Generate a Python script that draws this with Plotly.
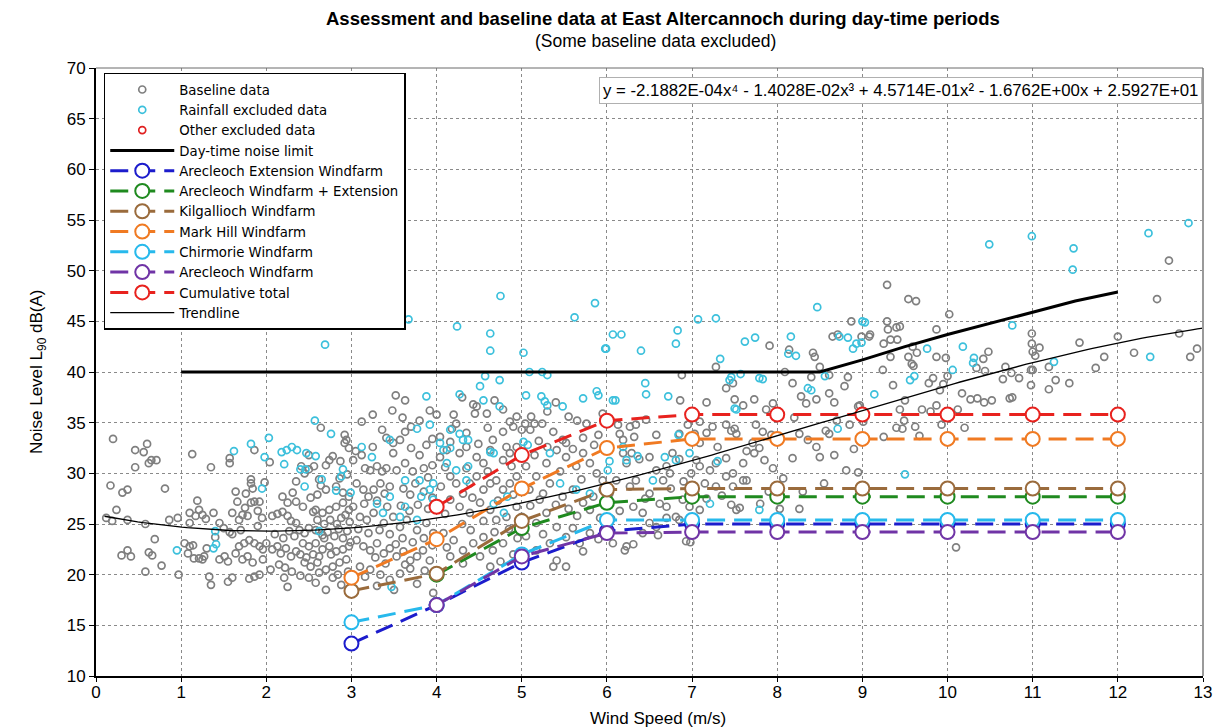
import numpy as np
import plotly.graph_objects as go

# ---------------- data ----------------
arecleoch_ext_x = [3, 4, 5, 6, 7, 8, 9, 10, 11, 12]
arecleoch_ext_y = [13.2, 17.0, 21.2, 24.3, 25.0, 25.0, 25.0, 25.0, 25.0, 25.0]

arecleoch_plus_x = [4, 5, 6, 7, 8, 9, 10, 11, 12]
arecleoch_plus_y = [20.0, 24.6, 27.1, 27.7, 27.7, 27.7, 27.7, 27.7, 27.7]

kilgallioch_x = [3, 4, 5, 6, 7, 8, 9, 10, 11, 12]
kilgallioch_y = [18.4, 20.1, 25.3, 28.4, 28.5, 28.5, 28.5, 28.5, 28.5, 28.5]

markhill_x = [3, 4, 5, 6, 7, 8, 9, 10, 11, 12]
markhill_y = [19.7, 23.5, 28.5, 32.5, 33.4, 33.4, 33.4, 33.4, 33.4, 33.4]

chirmorie_x = [3, 4, 5, 6, 7, 8, 9, 10, 11, 12]
chirmorie_y = [15.3, 17.0, 22.0, 25.4, 25.4, 25.4, 25.4, 25.4, 25.4, 25.4]

arecleoch_x = [4, 5, 6, 7, 8, 9, 10, 11, 12]
arecleoch_y = [17.0, 21.8, 24.1, 24.2, 24.2, 24.2, 24.2, 24.2, 24.2]

cumulative_x = [4, 5, 6, 7, 8, 9, 10, 11, 12]
cumulative_y = [26.7, 31.8, 35.2, 35.8, 35.8, 35.8, 35.8, 35.8, 35.8]

limit_x = [1, 8.5, 9, 9.5, 10, 10.5, 11, 11.5, 12]
limit_y = [40, 40, 41.2, 42.5, 43.7, 44.8, 45.9, 47.0, 47.9]

# trendline coefficients shown on the chart (x^4 ... x^0)
trend_coeffs = [-2.1882e-04, -1.4028e-02, 4.5714e-01, -1.6762e+00, 2.5927e+01]
trend_range = [0.1, 13.0]

baseline_points = [
    # 0-1 m/s
    (0.2,33.4),(0.46,32.3),(0.56,32.1),(0.6,32.9),(0.46,30.6),(0.62,31.0),(0.65,31.3),(0.71,31.3),
    (0.17,28.8),(0.31,28.1),(0.37,28.4),(0.81,28.5),(0.24,26.4),(0.19,25.3),(0.37,25.4),(0.58,25.0),
    (0.69,23.5),(0.37,22.4),(0.41,21.8),(0.62,22.2),(0.66,21.9),(0.77,20.9),(0.58,20.3),(0.97,20.0),
    (0.12,25.6),(0.86,25.4),(0.3,21.9),
    # 1-2 m/s
    (1.13,31.9),(1.35,30.6),(1.57,31.5),(1.57,31.0),(1.82,29.4),(1.82,29.0),(1.84,28.5),(1.86,32.3),
    (1.98,29.1),(2.04,31.1),(1.64,28.2),(1.76,28.0),(1.66,27.2),(1.19,27.3),(1.1,26.1),(1.21,26.4),
    (1.25,25.9),(1.38,26.1),(0.96,25.6),(1.1,25.1),(1.17,25.8),(1.29,25.5),(1.6,26.1),(1.72,25.9),
    (1.78,25.8),(1.68,25.4),(1.82,27.1),(1.86,27.2),(1.92,27.2),(1.45,25.1),(1.57,24.2),(1.6,24.0),
    (1.04,23.1),(1.1,22.8),(1.14,22.9),(1.08,22.1),(1.15,21.6),(1.21,21.6),(1.27,21.8),(1.25,21.5),
    (1.45,21.5),(1.51,21.8),(1.55,21.3),(1.33,19.8),(1.35,19.0),(1.55,19.3),(1.6,19.7),(1.68,22.8),
    (1.74,23.1),(1.8,23.4),(1.86,23.1),(1.64,22.1),(1.72,21.5),(1.78,21.8),(1.84,21.2),(1.92,22.8),
    (1.96,22.5),(2.0,23.1),(1.8,19.6),(1.86,19.8),(1.92,20.0),(1.96,21.5),(1.5,24.6),(1.7,24.4),
    (1.9,24.8),(1.4,23.7),(1.3,22.6),(1.95,25.6),(1.9,26.3),(1.75,26.6),
    # 2-3 m/s
    (2.05,20.5),(2.07,22.5),(2.13,22.8),(2.17,22.1),(2.23,22.6),(2.29,21.8),(2.35,22.3),(2.07,25.8),
    (2.13,26.0),(2.19,26.2),(2.25,25.8),(2.29,25.3),(2.35,25.1),(2.19,27.7),(2.25,27.1),(2.31,28.1),
    (2.35,27.2),(2.43,26.7),(2.35,29.2),(2.41,30.7),(2.45,30.0),(2.5,30.4),(2.56,30.7),(2.62,29.4),
    (2.64,34.5),(2.74,31.3),(2.78,31.7),(2.92,33.8),(2.94,33.3),(2.92,33.0),(2.39,24.4),(2.45,24.1),
    (2.5,24.6),(2.58,24.4),(2.66,23.9),(2.43,23.1),(2.5,22.8),(2.58,23.1),(2.66,22.5),(2.74,22.8),
    (2.82,22.3),(2.9,22.5),(2.97,22.8),(2.45,21.2),(2.52,20.8),(2.6,21.2),(2.7,20.5),(2.78,20.8),
    (2.86,21.2),(2.94,21.5),(2.21,19.7),(2.25,18.8),(2.5,19.7),(2.58,19.2),(2.7,18.5),(2.78,19.7),
    (2.88,19.0),(2.58,26.4),(2.66,26.1),(2.74,26.4),(2.82,26.7),(2.9,27.1),(2.97,26.4),(2.7,28.4),
    (2.82,28.7),(2.9,28.1),(2.97,27.7),(2.1,24.0),(2.2,23.6),(2.27,24.3),(2.33,23.8),(2.4,22.0),
    (2.47,21.7),(2.55,22.0),(2.62,21.8),(2.68,23.6),(2.72,24.2),(2.8,23.8),(2.85,24.5),(2.9,23.6),
    (2.95,24.3),(2.98,25.2),(2.6,25.4),(2.68,25.0),(2.75,25.4),(2.83,25.0),(2.88,25.6),(2.93,25.9),
    (2.52,27.6),(2.6,27.9),(2.64,28.8),(2.86,29.5),(2.95,29.9),(2.55,26.2),(2.3,20.3),(2.4,19.9),
    (2.15,21.0),(2.22,20.7),(2.96,20.3),(2.84,20.0),(2.62,20.2),(2.76,22.0),(2.99,23.2),(2.5,31.8),
    (2.7,30.8),(2.87,31.2),(2.97,32.5),
    # 3-4 m/s
    (3.52,37.7),(3.63,37.2),(3.48,36.2),(3.36,34.3),(3.41,33.5),(3.49,33.0),(3.57,33.3),(3.63,34.1),
    (3.49,32.0),(3.02,31.3),(3.16,30.5),(3.22,30.3),(3.3,30.7),(3.36,30.2),(3.41,30.5),(3.53,30.3),
    (3.63,31.0),(3.06,29.0),(3.14,28.4),(3.2,27.7),(3.26,28.4),(3.34,29.0),(3.39,28.0),(3.45,28.7),
    (3.61,28.5),(3.69,27.9),(3.75,29.0),(3.02,26.7),(3.1,25.7),(3.18,25.4),(3.26,26.1),(3.38,25.1),
    (3.49,25.7),(3.57,24.7),(3.65,25.4),(3.77,24.4),(3.88,25.1),(3.96,24.1),(3.06,23.4),(3.14,22.8),
    (3.22,22.4),(3.3,23.1),(3.38,22.1),(3.45,22.6),(3.53,21.8),(3.61,22.3),(3.69,21.4),(3.77,21.8),
    (3.84,22.4),(3.92,21.4),(3.1,20.8),(3.22,20.5),(3.34,20.0),(3.45,19.5),(3.57,20.1),(3.69,20.6),
    (3.77,19.1),(3.96,18.2),(3.05,32.2),(3.12,31.8),(3.25,32.6),(3.7,32.5),(3.8,31.8),(3.85,30.5),
    (3.9,29.6),(3.95,30.8),(3.72,30.2),(3.85,28.2),(3.95,27.6),(3.58,26.8),(3.68,26.3),(3.78,26.9),
    (3.9,26.5),(3.15,27.0),(3.3,27.3),(3.42,26.7),(3.08,24.5),(3.2,24.1),(3.33,24.4),(3.45,24.0),
    (3.6,23.6),(3.72,23.2),(3.85,23.6),(3.95,22.9),(3.52,23.0),(3.28,21.7),(3.4,21.1),(3.63,21.0),
    (3.86,20.4),(3.16,19.8),(3.3,18.9),(3.5,18.5),(3.12,35.1),(3.25,35.8),(3.8,35.2),(3.92,36.2),
    (3.7,34.6),(3.95,33.4),(3.88,32.8),(3.6,35.5),
    # 4-5 m/s
    (4.0,35.8),(4.43,36.8),(4.47,36.6),(4.59,35.9),(4.45,35.9),(4.2,35.8),(4.23,34.9),(4.18,34.4),
    (4.78,36.3),(4.86,35.1),(4.94,35.6),(4.16,29.7),(4.23,29.0),(4.31,28.0),(4.39,29.0),(4.47,29.7),
    (4.55,28.4),(4.63,29.0),(4.7,29.3),(4.78,28.4),(4.86,29.0),(4.94,29.7),(4.16,27.4),(4.27,26.7),
    (4.39,26.1),(4.51,27.1),(4.63,26.4),(4.7,25.4),(4.82,25.7),(4.94,26.7),(4.08,24.1),(4.2,23.4),
    (4.31,22.4),(4.43,23.1),(4.55,23.7),(4.66,22.4),(4.78,23.1),(4.16,21.8),(4.31,21.1),(4.51,21.8),
    (4.63,20.8),(4.04,31.6),(4.12,32.3),(4.27,32.0),(4.35,32.6),(4.47,31.6),(4.55,31.0),(4.63,32.3),
    (4.78,31.3),(4.86,32.0),(4.94,32.6),(4.04,33.6),(4.16,33.1),(4.49,32.9),(4.66,33.3),(4.78,34.1),
    (4.9,34.6),(4.82,32.6),(4.1,30.6),(4.35,30.5),(4.6,30.2),(4.88,30.7),(4.05,28.7),(4.42,27.6),
    (4.72,27.3),(4.9,27.9),(4.1,26.0),(4.55,25.3),(4.3,25.0),(4.85,24.5),(4.95,23.6),(4.68,24.2),
    (4.4,24.4),(4.12,22.7),(4.9,22.0),(4.75,21.3),(4.35,34.0),(4.6,34.5),(4.68,37.2),(4.3,37.5),
    # 5-6 m/s
    (5.11,35.6),(5.04,34.9),(5.15,34.9),(5.0,34.3),(5.1,34.3),(5.24,34.9),(5.37,34.1),(5.48,33.3),
    (5.52,33.0),(5.72,33.5),(5.76,34.9),(5.05,30.7),(5.17,29.7),(5.29,31.0),(5.41,32.3),(5.52,31.6),
    (5.64,30.7),(5.72,32.0),(5.8,31.0),(5.88,30.0),(5.95,29.3),(5.09,28.4),(5.21,27.4),(5.33,29.0),
    (5.48,27.7),(5.6,28.4),(5.72,27.1),(5.84,27.7),(5.95,28.4),(5.0,25.7),(5.17,25.1),(5.29,26.1),
    (5.41,24.7),(5.52,23.7),(5.68,23.1),(5.8,24.1),(5.33,23.1),(5.17,22.4),(5.41,21.4),(5.72,22.3),
    (5.52,20.8),(5.37,20.8),(5.2,33.2),(5.3,32.6),(5.6,32.4),(5.85,32.8),(5.9,33.8),(5.15,31.8),
    (5.45,30.2),(5.7,29.4),(5.25,28.0),(5.55,26.5),(5.65,25.8),(5.8,26.4),(5.92,25.6),(5.1,26.8),
    (5.4,26.9),(5.05,23.8),(5.25,24.0),(5.6,24.6),(5.9,23.5),(5.55,35.6),(5.3,36.1),(5.95,35.9),
    (5.65,35.2),(5.4,37.0),
    # 6-7 m/s
    (6.88,39.7),(6.86,37.2),(6.46,35.3),(6.34,34.8),(6.27,34.6),(6.13,34.8),(6.15,33.9),(6.32,33.6),
    (6.19,33.3),(6.58,33.8),(6.85,33.9),(6.95,34.8),(6.11,29.3),(6.03,28.0),(6.27,28.7),(6.34,29.3),
    (6.31,26.7),(6.42,26.1),(6.5,28.0),(6.62,27.0),(6.7,26.7),(6.89,27.4),(6.97,26.7),(6.93,23.3),
    (6.81,25.7),(6.85,25.4),(6.07,23.1),(6.23,22.8),(6.31,23.0),(6.21,22.4),(6.42,24.1),(6.5,25.1),
    (6.58,24.7),(6.7,25.6),(6.19,32.0),(6.23,31.0),(6.29,32.0),(6.38,31.4),(6.5,31.6),(6.58,30.3),
    (6.7,30.7),(6.77,32.0),(6.85,31.4),(6.74,30.0),(6.66,29.3),(6.05,25.5),(6.15,26.3),(6.6,23.9),
    (6.45,27.5),(6.75,28.5),(6.9,29.2),(6.98,23.2),
    # 7-8 m/s
    (7.05,31.3),(7.09,30.7),(6.99,30.0),(7.21,30.3),(7.28,31.0),(7.4,29.7),(7.48,30.0),(7.6,29.3),
    (7.28,28.7),(7.28,40.5),(7.4,38.4),(7.48,38.9),(7.5,37.3),(7.17,37.0),(7.6,36.7),(7.73,37.3),
    (7.95,36.9),(7.87,36.3),(7.09,35.1),(7.17,34.0),(7.24,34.6),(7.4,34.8),(7.46,34.2),(7.52,33.9),
    (7.5,34.4),(7.75,34.8),(7.83,34.1),(7.93,33.8),(7.71,33.0),(7.79,32.5),(7.73,32.0),(7.85,31.3),
    (7.64,32.2),(7.03,33.9),(7.09,33.0),(7.64,29.3),(7.48,28.7),(7.56,26.6),(7.52,26.4),(7.46,26.9),
    (7.09,26.4),(7.17,27.5),(7.95,30.5),(7.91,42.6),(7.3,32.6),(7.4,31.5),(7.15,29.0),(7.6,31.0),
    (7.9,28.2),(7.35,27.8),(7.8,27.0),
    # 8-9 m/s
    (8.14,42.2),(8.42,41.9),(8.44,41.5),(8.5,40.5),(8.65,43.5),(8.71,43.7),(8.87,45.0),(8.61,39.7),
    (8.83,39.5),(8.79,38.6),(8.09,40.0),(8.18,38.9),(8.28,37.6),(8.4,39.5),(8.61,37.9),(8.67,37.0),
    (8.95,36.6),(8.97,36.7),(8.34,36.9),(8.46,37.3),(8.26,33.9),(8.36,33.3),(8.46,32.6),(8.5,31.6),
    (8.57,34.2),(8.61,33.9),(8.67,31.8),(8.81,30.3),(8.95,30.1),(8.18,31.5),(8.07,29.5),(8.03,26.5),
    (8.26,26.5),(8.7,35.2),(8.85,34.8),(8.2,35.5),(8.9,32.4),(8.55,29.0),(8.3,28.2),
    # 9-10 m/s
    (9.08,43.5),(9.29,48.6),(9.54,47.2),(9.63,47.0),(9.29,45.0),(9.3,44.2),(9.4,44.4),(9.44,44.5),
    (9.87,44.2),(9.09,43.7),(8.99,43.5),(9.25,42.8),(9.33,43.2),(9.41,43.2),(9.59,42.5),(9.64,41.9),
    (9.54,41.5),(9.33,41.5),(9.87,41.5),(9.98,41.4),(9.58,40.8),(9.6,40.6),(9.24,40.2),(9.83,39.4),
    (9.78,38.9),(9.91,38.2),(9.36,38.7),(9.5,37.2),(9.44,36.3),(9.7,36.3),(9.8,36.1),(9.87,36.7),
    (9.49,35.2),(9.47,34.4),(9.4,34.5),(9.62,34.6),(9.67,33.7),(9.25,33.6),(9.93,34.8),(9.0,36.1),
    (9.01,35.1),
    # 10-11 m/s
    (10.02,45.7),(10.0,39.6),(9.95,38.8),(10.2,34.5),(10.12,36.3),(10.17,37.9),(10.27,37.3),
    (10.35,37.4),(10.43,37.0),(10.52,37.2),(10.73,37.4),(10.48,42.0),(10.42,41.3),(10.34,40.4),
    (10.44,40.1),(10.68,40.5),(10.75,39.9),(10.65,39.3),(10.84,39.4),(10.99,43.8),(10.99,42.8),
    (10.76,37.5),(10.1,22.7),
    # 11-12 m/s
    (11.0,42.0),(11.08,42.4),(11.03,41.6),(10.98,40.2),(11.0,40.2),(10.98,38.7),(11.19,38.3),
    (11.27,39.2),(11.19,40.5),(11.43,38.9),(11.55,42.9),(11.74,40.4),(11.84,41.5),(12.0,43.5),
    # 12-13 m/s
    (12.19,41.9),(12.46,47.2),(12.6,51.0),(12.72,43.8),(12.85,41.5),(12.93,42.3),
]

rainfall_points = [
    (2.69,42.7),(2.57,35.2),(2.76,33.9),(2.03,33.5),(1.82,32.9),(1.62,32.2),(1.98,31.6),(2.21,30.9),
    (2.18,32.1),(2.24,32.3),(2.3,32.6),(2.36,32.3),(2.47,32.0),(2.58,31.7),(2.4,30.4),(2.46,30.4),
    (1.95,28.5),(2.45,28.7),(2.9,30.4),(2.88,29.7),(2.82,28.3),(2.99,28.1),(2.65,29.4),(1.4,24.3),
    (1.38,22.6),(1.41,23.0),(0.95,22.4),(2.62,24.3),
    (4.75,47.5),(5.86,46.8),(5.62,45.4),(3.67,45.2),(4.24,44.5),(4.63,43.8),(4.63,42.1),(5.02,41.9),
    (5.99,42.3),(5.09,40.0),(5.24,40.0),(5.3,39.7),(4.57,39.6),(4.74,39.2),(4.51,38.6),(3.88,37.6),
    (4.27,37.8),(4.55,37.2),(5.88,38.1),(5.9,37.7),(5.72,37.4),(5.48,36.6),(5.23,37.6),(5.27,37.1),
    (5.3,36.7),(5.05,37.7),(4.74,36.6),(3.77,34.4),(3.92,34.8),(4.16,34.3),(4.27,33.9),(4.31,33.3),
    (4.37,33.3),(4.04,33.0),(4.08,32.3),(4.16,32.5),(4.63,32.1),(4.67,32.0),(5.02,33.1),(5.07,32.8),
    (5.33,32.0),(3.12,32.6),(3.24,31.6),(3.45,33.3),(3.63,29.3),(3.8,29.3),(3.96,29.0),(3.92,28.4),
    (4.12,31.0),(4.23,30.3),(4.37,30.7),(4.35,29.3),(3.82,27.7),(3.96,27.4),(3.63,26.7),(3.45,27.7),
    (3.3,27.0),(3.37,26.1),(3.57,25.7),(3.77,25.4),(4.67,27.0),(4.79,26.1),(4.83,27.7),(5.45,29.0),
    (5.64,28.4),(5.8,28.0),(3.47,18.8),
    (6.07,43.7),(6.17,43.7),(5.98,42.3),(6.4,42.1),(6.81,42.8),(6.83,44.1),(7.07,45.2),(7.28,45.3),
    (7.62,43.0),(7.74,43.4),(7.33,41.3),(7.57,39.8),(7.44,39.2),(7.46,39.5),(7.79,39.4),(7.83,39.3),
    (6.45,38.9),(6.46,37.8),(6.07,37.2),(6.1,37.2),(6.72,37.6),(7.52,36.3),(8.47,46.4),(8.16,43.5),
    (8.13,41.8),(8.22,41.6),(8.73,43.5),(8.83,43.4),(8.93,42.8),(8.89,42.3),(9.0,45.0),(8.36,38.4),
    (8.4,38.2),(8.56,39.6),(8.71,34.4),(6.19,32.6),(6.23,31.3),(6.01,30.3),(6.03,31.2),(6.54,29.3),
    (6.36,31.7),(6.84,33.8),(6.68,31.6),(6.81,31.3),(6.97,32.0),(7.3,31.2),(7.21,27.0),(7.5,36.4),
    (7.79,26.4),
    (10.49,52.6),(10.99,53.4),(11.48,52.2),(11.47,50.1),(12.36,53.7),(12.83,54.7),(9.03,44.9),
    (8.99,42.9),(10.76,44.6),(9.76,42.3),(10.18,42.5),(10.31,41.4),(10.3,40.9),(10.06,40.2),
    (9.61,39.6),(9.56,39.2),(11.25,41.0),(9.14,37.8),(9.5,29.9),(12.38,41.5),
]

other_excluded_x = []
other_excluded_y = []

x_ticks = list(range(0, 14))
y_ticks = list(range(10, 75, 5))

title_text = "<b>Assessment and baseline data at East Altercannoch during day-time periods</b>"
subtitle_text = "(Some baseline data excluded)"
x_title = "Wind Speed (m/s)"
y_title = "Noise Level L<sub>90</sub> dB(A)"
equation_text = ("y = -2.1882E-04x\u2074 - 1.4028E-02x\u00b3 + 4.5714E-01x\u00b2 "
                 "- 1.6762E+00x + 2.5927E+01")

# ---------------- figure ----------------
FONT = "Liberation Sans, Arial, sans-serif"
LEGEND_FONT = "DejaVu Sans, Liberation Sans, sans-serif"
fig = go.Figure()

bx, by = zip(*baseline_points)
rx, ry = zip(*rainfall_points)

fig.add_trace(go.Scatter(
    x=list(bx), y=list(by), mode="markers", name="Baseline data",
    marker=dict(symbol="circle-open", size=7, color="#7f7f7f", line=dict(width=1.7)),
))
fig.add_trace(go.Scatter(
    x=list(rx), y=list(ry), mode="markers", name="Rainfall excluded data",
    marker=dict(symbol="circle-open", size=7, color="#3cc0dc", line=dict(width=1.7)),
))
fig.add_trace(go.Scatter(
    x=other_excluded_x if other_excluded_x else [None],
    y=other_excluded_y if other_excluded_y else [None],
    mode="markers", name="Other excluded data",
    marker=dict(symbol="circle-open", size=7, color="#e02020", line=dict(width=1.7)),
))

fig.add_trace(go.Scatter(
    x=limit_x, y=limit_y, mode="lines", name="Day-time noise limit",
    line=dict(color="black", width=3),
))

DASH = "18px,9px"
series = [
    ("Arecleoch Extension Windfarm", arecleoch_ext_x, arecleoch_ext_y, "#1c1ccc"),
    ("Arecleoch Windfarm + Extension", arecleoch_plus_x, arecleoch_plus_y, "#1f8a1f"),
    ("Kilgallioch Windfarm", kilgallioch_x, kilgallioch_y, "#9a6b3c"),
    ("Mark Hill Windfarm", markhill_x, markhill_y, "#f07a22"),
    ("Chirmorie Windfarm", chirmorie_x, chirmorie_y, "#27b9ec"),
    ("Arecleoch Windfarm", arecleoch_x, arecleoch_y, "#7034a6"),
    ("Cumulative total", cumulative_x, cumulative_y, "#e8221e"),
]
for name, xs, ys, col in series:
    fig.add_trace(go.Scatter(
        x=xs, y=ys, mode="lines+markers", name=name,
        line=dict(color=col, width=3, dash=DASH),
        marker=dict(symbol="circle", size=14, color="white", line=dict(color=col, width=2)),
    ))

tx = np.linspace(trend_range[0], trend_range[1], 200)
ty = np.polyval(trend_coeffs, tx)
fig.add_trace(go.Scatter(
    x=tx, y=ty, mode="lines", name="Trendline",
    line=dict(color="black", width=1.3),
))

fig.update_layout(
    width=1214, height=728,
    margin=dict(l=96, r=11, t=68, b=52),
    paper_bgcolor="white", plot_bgcolor="white",
    font=dict(family=FONT, color="black"),
    showlegend=True,
    legend=dict(
        x=0.007, y=0.992, xanchor="left", yanchor="top",
        bgcolor="white", bordercolor="black", borderwidth=1.5,
        font=dict(size=13.3, family=LEGEND_FONT), itemwidth=64,
        tracegroupgap=0,
    ),
    xaxis=dict(
        range=[0, 13], tickvals=x_ticks, ticktext=[str(v) for v in x_ticks],
        showgrid=True, gridcolor="#8a8a8a", griddash="dot", gridwidth=1,
        showline=True, linecolor="black", linewidth=2,
        ticks="outside", ticklen=4, tickcolor="black", ticklabelstandoff=-4,
        tickfont=dict(size=17, family=FONT),
        automargin=False, zeroline=False,
    ),
    yaxis=dict(
        range=[10, 70], tickvals=y_ticks,
        showgrid=True, gridcolor="#8a8a8a", griddash="dot", gridwidth=1,
        showline=True, linecolor="black", linewidth=2,
        ticks="outside", ticklen=5, tickcolor="black",
        tickfont=dict(size=17, family=FONT),
        automargin=False, zeroline=False,
    ),
    shapes=[
        dict(type="line", xref="paper", yref="paper", x0=1, x1=1, y0=0, y1=1,
             line=dict(color="#9a9a9a", width=2)),
        dict(type="line", xref="paper", yref="paper", x0=0, x1=1, y0=1, y1=1,
             line=dict(color="#6a6a6a", width=1)),
    ],
    annotations=[
        dict(text=title_text, xref="paper", yref="paper", x=0.512, y=1.0, yshift=50,
             showarrow=False, font=dict(size=18.5, family=FONT), xanchor="center", yanchor="middle"),
        dict(text=subtitle_text, xref="paper", yref="paper", x=0.505, y=1.0, yshift=27,
             showarrow=False, font=dict(size=17.5, family=FONT), xanchor="center", yanchor="middle"),
        dict(text=x_title, xref="paper", yref="paper", x=0.508, y=0.0, yshift=-42,
             showarrow=False, font=dict(size=17, family=FONT), xanchor="center", yanchor="middle"),
        dict(text=y_title, xref="paper", yref="paper", x=0.0, xshift=-58, y=0.5,
             showarrow=False, font=dict(size=17, family=FONT), textangle=-90,
             xanchor="center", yanchor="middle"),
        dict(text=equation_text, xref="paper", yref="paper", x=0.999, y=0.963,
             showarrow=False, font=dict(size=16.8, family=FONT), xanchor="right", yanchor="middle",
             bgcolor="white", bordercolor="#b0b0b0", borderwidth=1, borderpad=3),
    ],
)

fig.write_html("out.html")
